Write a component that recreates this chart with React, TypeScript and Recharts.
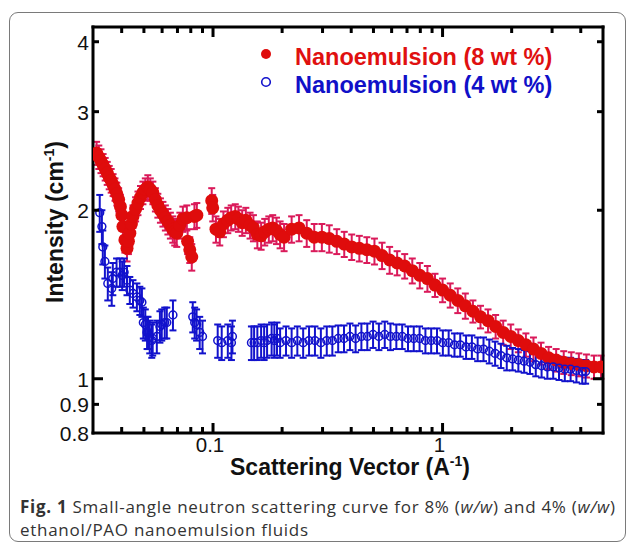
import React from 'react';
import { ScatterChart, Scatter, XAxis, YAxis, ErrorBar } from 'recharts';

// ---- data: 8 wt% nanoemulsion ----
const redQ = [
  0.0311, 0.0318, 0.0325, 0.0332, 0.0339, 0.0346, 0.0353, 0.036, 0.0367, 0.0374,
  0.0381, 0.0388, 0.0395, 0.0401, 0.0405, 0.0413, 0.0422, 0.0428, 0.0434, 0.0441,
  0.0448, 0.046, 0.0471, 0.0483, 0.0495, 0.0507, 0.052, 0.0533, 0.0547, 0.0561,
  0.0575, 0.059, 0.0605, 0.062, 0.0636, 0.0652, 0.0668, 0.0681, 0.0695, 0.0717,
  0.0739, 0.0769, 0.0775, 0.0792, 0.0808, 0.083, 0.085, 0.0987, 0.0997,
  0.103, 0.107, 0.111, 0.116, 0.12, 0.125, 0.129, 0.134, 0.139, 0.145,
  0.15, 0.156, 0.162, 0.168, 0.175, 0.182, 0.189, 0.196, 0.204, 0.22,
  0.237, 0.256, 0.276, 0.298, 0.321, 0.346, 0.373, 0.402, 0.434, 0.468,
  0.505, 0.545, 0.588, 0.634, 0.684, 0.738, 0.796, 0.859, 0.927, 1.0,
  1.08, 1.165, 1.257, 1.356, 1.463, 1.578, 1.703, 1.837, 1.982, 2.138,
  2.307, 2.489, 2.685, 2.897, 3.125, 3.372, 3.638, 3.925, 4.235, 4.569, 4.9,
];
const redI = [
  2.53, 2.49, 2.45, 2.41, 2.37, 2.33, 2.29, 2.26, 2.22, 2.18,
  2.14, 2.09, 2.03, 1.96, 1.87, 1.77, 1.71, 1.76, 1.82, 1.89,
  1.95, 2.01, 2.06, 2.11, 2.15, 2.18, 2.2, 2.18, 2.15, 2.09,
  2.04, 2.0, 1.97, 1.94, 1.91, 1.88, 1.85, 1.83, 1.82, 1.88,
  1.93, 1.94, 1.76, 1.7, 1.65, 1.95, 1.96, 2.08, 2.02,
  1.85, 1.83, 1.89, 1.92, 1.94, 1.95, 1.93, 1.9, 1.92, 1.88,
  1.86, 1.81, 1.8, 1.83, 1.85, 1.86, 1.84, 1.81, 1.79, 1.85,
  1.86, 1.82, 1.79, 1.79, 1.78, 1.76, 1.74, 1.72, 1.71, 1.7,
  1.69, 1.66, 1.63, 1.61, 1.59, 1.56, 1.53, 1.51, 1.47, 1.44,
  1.41, 1.38, 1.35, 1.32, 1.29, 1.27, 1.24, 1.21, 1.19, 1.17,
  1.15, 1.13, 1.11, 1.09, 1.08, 1.07, 1.065, 1.06, 1.055, 1.05, 1.05,
];
const redErr = [
  0.12, 0.12, 0.12, 0.11, 0.11, 0.11, 0.11, 0.11, 0.1, 0.1,
  0.1, 0.1, 0.1, 0.09, 0.09, 0.09, 0.09, 0.09, 0.09, 0.09,
  0.09, 0.1, 0.1, 0.1, 0.1, 0.1, 0.11, 0.1, 0.1, 0.1,
  0.1, 0.1, 0.1, 0.1, 0.1, 0.1, 0.1, 0.1, 0.1, 0.1,
  0.1, 0.1, 0.09, 0.09, 0.09, 0.1, 0.1, 0.11, 0.11,
  0.1, 0.1, 0.1, 0.1, 0.1, 0.1, 0.1, 0.1, 0.1, 0.1,
  0.1, 0.1, 0.1, 0.1, 0.1, 0.1, 0.1, 0.1, 0.1, 0.1,
  0.1, 0.1, 0.1, 0.1, 0.1, 0.09, 0.09, 0.09, 0.09, 0.09,
  0.09, 0.09, 0.09, 0.08, 0.08, 0.08, 0.08, 0.08, 0.07, 0.07,
  0.07, 0.07, 0.07, 0.06, 0.06, 0.06, 0.06, 0.06, 0.06, 0.055,
  0.055, 0.055, 0.05, 0.05, 0.05, 0.05, 0.05, 0.05, 0.05, 0.05, 0.05,
];

// ---- data: 4 wt% nanoemulsion ----
const blueQ = [
  0.0321, 0.0328, 0.0331, 0.0338, 0.0348, 0.0362, 0.0366, 0.038, 0.0393, 0.0402,
  0.041, 0.0422, 0.0434, 0.0448, 0.0466, 0.048, 0.049, 0.0497, 0.0507, 0.0516,
  0.0521, 0.053, 0.0541, 0.0546, 0.0569, 0.0587, 0.0598, 0.0616, 0.0629, 0.0669,
  0.0816, 0.0832, 0.0848, 0.0875, 0.09, 0.1048, 0.1091, 0.116, 0.1203, 0.1215,
  0.147, 0.151, 0.156, 0.162, 0.167, 0.172, 0.18, 0.185, 0.19,
  0.196, 0.208, 0.22, 0.233, 0.247, 0.262, 0.278, 0.295, 0.313, 0.331,
  0.351, 0.372, 0.395, 0.418, 0.443, 0.47, 0.498, 0.528, 0.56, 0.593,
  0.629, 0.667, 0.707, 0.749, 0.794, 0.842, 0.892, 0.946, 1.003, 1.063,
  1.127, 1.194, 1.266, 1.342, 1.422, 1.508, 1.598, 1.694, 1.796, 1.904,
  2.018, 2.139, 2.267, 2.403, 2.547, 2.7, 2.862, 3.034, 3.216, 3.409,
  3.613, 3.83, 4.06, 4.2,
];
const blueI = [
  1.98, 1.87, 1.72, 1.62, 1.48, 1.45, 1.51, 1.55, 1.55, 1.53,
  1.55, 1.5, 1.44, 1.42, 1.4, 1.38, 1.37, 1.26, 1.25, 1.21,
  1.21, 1.19, 1.17, 1.18, 1.19, 1.24, 1.25, 1.26, 1.26, 1.3,
  1.29, 1.26, 1.25, 1.21, 1.19, 1.17, 1.16, 1.17, 1.16, 1.19,
  1.16, 1.16, 1.16, 1.17, 1.16, 1.17, 1.18, 1.17, 1.18,
  1.16, 1.17, 1.16, 1.17, 1.16, 1.17, 1.17, 1.16, 1.17, 1.17,
  1.18, 1.18, 1.19, 1.18, 1.19, 1.19, 1.2, 1.19, 1.2, 1.19,
  1.19, 1.19, 1.18, 1.18, 1.18, 1.17, 1.17, 1.17, 1.16, 1.16,
  1.15, 1.15, 1.14, 1.14, 1.13, 1.13, 1.12, 1.11, 1.1, 1.09,
  1.085, 1.08, 1.075, 1.07, 1.06, 1.055, 1.05, 1.05, 1.045, 1.04,
  1.04, 1.035, 1.03, 1.03,
];
const blueErr = [
  0.15, 0.13, 0.12, 0.11, 0.1, 0.1, 0.1, 0.09, 0.09, 0.09,
  0.09, 0.09, 0.08, 0.08, 0.08, 0.08, 0.08, 0.08, 0.08, 0.08,
  0.08, 0.08, 0.08, 0.08, 0.08, 0.08, 0.08, 0.08, 0.08, 0.08,
  0.08, 0.08, 0.08, 0.08, 0.08, 0.08, 0.08, 0.08, 0.08, 0.08,
  0.08, 0.08, 0.08, 0.08, 0.08, 0.08, 0.08, 0.08, 0.08,
  0.07, 0.07, 0.07, 0.07, 0.07, 0.07, 0.07, 0.07, 0.07, 0.07,
  0.065, 0.065, 0.065, 0.065, 0.065, 0.065, 0.065, 0.065, 0.065, 0.065,
  0.06, 0.06, 0.06, 0.06, 0.06, 0.06, 0.06, 0.06, 0.06, 0.06,
  0.055, 0.055, 0.055, 0.055, 0.055, 0.055, 0.055, 0.055, 0.055, 0.055,
  0.05, 0.05, 0.05, 0.05, 0.05, 0.05, 0.05, 0.05, 0.05, 0.05,
  0.05, 0.05, 0.05, 0.05,
];

// ---- ticks ----
const xTicks = [0.04, 0.05, 0.06, 0.07, 0.08, 0.09, 0.1, 0.2, 0.3, 0.4, 0.5, 0.6, 0.7, 0.8, 0.9, 1, 2, 3, 4];
const xMajorTicks = [0.1, 1];
const xMajorLabels = ['0.1', '1'];
const yTicks = [0.8, 0.9, 1, 2, 3, 4];
const yTickLabels = ['0.8', '0.9', '1', '2', '3', '4'];
const yMajorTicks = [1];

const seriesNames = ['Nanoemulsion (8 wt %)', 'Nanoemulsion (4 wt %)'];

const redData = redQ.map((q, i) => ({ q, I: redI[i], e: redErr[i] }));
const blueData = blueQ.map((q, i) => ({ q, I: blueI[i], e: blueErr[i] }));

const FONT = '"Liberation Sans", Arial, Helvetica, sans-serif';
const RED = '#df0c0c';
const RED_ERR = '#da1a5a';
const BLUE = '#1212cc';

const BottomTick = (p: any) => {
  const v = p.payload.value;
  const mi = xMajorTicks.indexOf(v);
  const len = mi >= 0 ? 10 : 6;
  return (
    <g>
      <line x1={p.x} x2={p.x} y1={p.y} y2={p.y - len} stroke="#000" strokeWidth={3} />
      {mi >= 0 && (
        <text x={p.x - 3} y={p.y + 19} textAnchor="middle" fontSize={20.5} fontFamily={FONT} fill="#111">
          {xMajorLabels[mi]}
        </text>
      )}
    </g>
  );
};

const TopTick = (p: any) => {
  const v = p.payload.value;
  const len = xMajorTicks.indexOf(v) >= 0 ? 10 : 6;
  return <line x1={p.x} x2={p.x} y1={p.y} y2={p.y + len} stroke="#000" strokeWidth={3} />;
};

const LeftTick = (p: any) => {
  const v = p.payload.value;
  const idx = yTicks.indexOf(v);
  const len = yMajorTicks.indexOf(v) >= 0 ? 10 : 6;
  return (
    <g>
      {v > 0.8 && <line x1={p.x} x2={p.x + len} y1={p.y} y2={p.y} stroke="#000" strokeWidth={3} />}
      <text x={p.x - 4} y={p.y + 8} textAnchor="end" fontSize={21} fontFamily={FONT} fill="#111">
        {yTickLabels[idx]}
      </text>
    </g>
  );
};

const RightTick = (p: any) => {
  const v = p.payload.value;
  const len = yMajorTicks.indexOf(v) >= 0 ? 10 : 6;
  if (v <= 0.8) return <g />;
  return <line x1={p.x} x2={p.x - len} y1={p.y} y2={p.y} stroke="#000" strokeWidth={3} />;
};

const RedDot = (p: any) => <circle cx={p.cx} cy={p.cy} r={6.5} fill={RED} />;
const BlueDot = (p: any) => <circle cx={p.cx} cy={p.cy} r={3.9} fill="none" stroke={BLUE} strokeWidth={1.5} />;

const axisLineStyle = { stroke: '#000', strokeWidth: 3, strokeLinecap: 'square' as const };

export default function App() {
  return (
    <div style={{ position: 'absolute', left: 0, top: 0, width: 629, height: 548, background: '#fff', overflow: 'hidden' }}>
      <div
        style={{
          position: 'absolute', left: 9, top: 12, width: 617, height: 530,
          border: '1px solid #7a7a7a', borderRadius: 9, boxSizing: 'border-box',
        }}
      />
      <div style={{ position: 'absolute', left: 0, top: 0 }}>
        <ScatterChart width={629} height={548} margin={{ top: 26, right: 25, bottom: 75, left: 33 }}>
          <XAxis
            type="number" dataKey="q" scale="log" domain={[0.03, 5]} allowDataOverflow
            ticks={xTicks} interval={0} tick={BottomTick} tickLine={false} tickSize={0} tickMargin={0}
            height={40} axisLine={axisLineStyle}
          />
          <XAxis
            xAxisId="top" orientation="top" type="number" dataKey="q" scale="log" domain={[0.03, 5]} allowDataOverflow
            ticks={xTicks} interval={0} tick={TopTick} tickLine={false} tickSize={0} tickMargin={0}
            height={1} axisLine={axisLineStyle}
          />
          <YAxis
            type="number" dataKey="I" scale="log" domain={[0.8, 4.25]} allowDataOverflow
            ticks={yTicks} interval={0} tick={LeftTick} tickLine={false} tickSize={0} tickMargin={0}
            width={60} axisLine={axisLineStyle}
          />
          <YAxis
            yAxisId="right" orientation="right" type="number" dataKey="I" scale="log" domain={[0.8, 4.25]} allowDataOverflow
            ticks={yTicks} interval={0} tick={RightTick} tickLine={false} tickSize={0} tickMargin={0}
            width={1} axisLine={axisLineStyle}
          />
          <Scatter name={seriesNames[0]} data={redData} shape={RedDot} isAnimationActive={false}>
            <ErrorBar dataKey="e" direction="y" width={3.5} stroke={RED_ERR} strokeWidth={2} isAnimationActive={false} />
          </Scatter>
          <Scatter name={seriesNames[1]} data={blueData} shape={BlueDot} isAnimationActive={false}>
            <ErrorBar dataKey="e" direction="y" width={3.5} stroke={BLUE} strokeWidth={2} isAnimationActive={false} />
          </Scatter>
        </ScatterChart>
      </div>
      <svg width={629} height={548} style={{ position: 'absolute', left: 0, top: 0, pointerEvents: 'none' }}>
        <circle cx={266} cy={54} r={5} fill={RED} />
        <text x={295} y={65} fontSize={23.5} fontWeight="bold" fontFamily={FONT} fill="#e01010">{seriesNames[0]}</text>
        <circle cx={266} cy={82} r={4.3} fill="none" stroke={BLUE} strokeWidth={1.6} />
        <text x={295} y={93} fontSize={23.5} fontWeight="bold" fontFamily={FONT} fill="#1010c8">{seriesNames[1]}</text>
        <text transform="translate(63,222) rotate(-90)" textAnchor="middle" fontSize={23} fontWeight="bold" fontFamily={FONT} fill="#111">
          Intensity (cm<tspan dy={-9} fontSize={14}>-1</tspan><tspan dy={9}>)</tspan>
        </text>
        <text x={350} y={475} textAnchor="middle" fontSize={23} fontWeight="bold" fontFamily={FONT} fill="#111">
          Scattering Vector (A<tspan dy={-9} fontSize={14}>-1</tspan><tspan dy={9}>)</tspan>
        </text>
      </svg>
      <div
        style={{
          position: 'absolute', left: 20, top: 495, width: 605,
          fontFamily: '"Open Sans", sans-serif', fontSize: 17, letterSpacing: '0.72px', lineHeight: '23px', color: '#333', whiteSpace: 'nowrap',
        }}
      >
        <div><b>Fig. 1</b> Small-angle neutron scattering curve for 8% (<i>w/w</i>) and 4% (<i>w/w</i>)</div>
        <div>ethanol/PAO nanoemulsion fluids</div>
      </div>
    </div>
  );
}
